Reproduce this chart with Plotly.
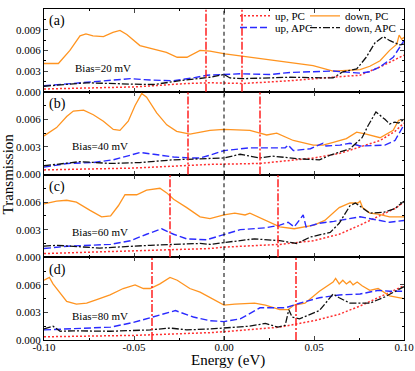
import plotly.graph_objects as go
from plotly.subplots import make_subplots

# bias voltage of each panel, mV
BIAS_MV = [20, 40, 60, 80]
PANEL_LABELS = ["(a)", "(b)", "(c)", "(d)"]
SERIES_NAMES = ["up, PC", "down, PC", "up, APC", "down, APC"]

# ---- panel (a) ----
A_UP_PC_E = [-0.1, -0.05, -0.02, -0.0078, 0.0107, 0.0367, 0.06, 0.0756, 0.0867, 0.1]
A_UP_PC_T = [0.0004, 0.0007, 0.0012, 0.0013, 0.0012, 0.0016, 0.0021, 0.0024, 0.0036, 0.0053]
A_DOWN_PC_E = [-0.1, -0.092, -0.0856, -0.08, -0.0767, -0.0728, -0.067, -0.0617, -0.0578, -0.054,
               -0.0467, -0.039, -0.032, -0.026, -0.0206, -0.0133, -0.0078, 0.0006, 0.0098, 0.02,
               0.0367, 0.0495, 0.0606, 0.066, 0.0756, 0.081, 0.0867, 0.092, 0.096, 0.0973, 0.0987, 0.1]
A_DOWN_PC_T = [0.0041, 0.0041, 0.0060, 0.0081, 0.0084, 0.0081, 0.0080, 0.0086, 0.0089, 0.0083,
               0.0067, 0.0062, 0.0057, 0.0050, 0.0050, 0.0060, 0.0059, 0.0055, 0.0052, 0.0048,
               0.0043, 0.0038, 0.0030, 0.0031, 0.0032, 0.0037, 0.0045, 0.0060, 0.0069, 0.0082, 0.0076, 0.0079]
A_UP_APC_E = [-0.1, -0.078, -0.0633, -0.052, -0.041, -0.0283, -0.0172, -0.0094, 0.0089, 0.0256,
              0.0367, 0.0495, 0.0606, 0.0756, 0.081, 0.0867, 0.094, 0.1]
A_UP_APC_T = [0.00086, 0.0013, 0.0016, 0.0019, 0.0017, 0.0016, 0.0020, 0.0024, 0.0026, 0.0025,
              0.0028, 0.0029, 0.0030, 0.0027, 0.0029, 0.0036, 0.0050, 0.0074]
A_DOWN_APC_E = [-0.1, -0.0763, -0.0505, -0.039, -0.0244, -0.0133, -0.0078, 0.0, 0.0033, 0.0107,
                0.0237, 0.0367, 0.0606, 0.066, 0.0737, 0.079, 0.0839, 0.0885, 0.0922, 0.0978, 0.1]
A_DOWN_APC_T = [0.0008, 0.0013, 0.0011, 0.00105, 0.0016, 0.0020, 0.0021, 0.0025, 0.0020, 0.0019,
                0.0020, 0.0021, 0.0020, 0.0029, 0.0033, 0.0050, 0.0071, 0.0080, 0.0074, 0.0068, 0.0069]

# ---- panel (b) ----
B_UP_PC_E = [-0.1, -0.05, -0.0078, 0.02, 0.05, 0.0644, 0.0756, 0.0867, 0.095, 0.1]
B_UP_PC_T = [0.0005, 0.0007, 0.0011, 0.0012, 0.0018, 0.0023, 0.0030, 0.0037, 0.0047, 0.0056]
B_DOWN_PC_E = [-0.1, -0.093, -0.0874, -0.0837, -0.078, -0.0726, -0.067, -0.0615, -0.0578, -0.0532,
               -0.0494, -0.0457, -0.043, -0.0374, -0.0318, -0.0263, -0.0189, -0.0133, -0.0078, 0.0,
               0.0144, 0.02, 0.0237, 0.0293, 0.0385, 0.0496, 0.055, 0.0607, 0.068, 0.0737,
               0.079, 0.0867, 0.09, 0.094, 0.097, 0.1]
B_DOWN_PC_T = [0.0042, 0.0051, 0.0063, 0.0069, 0.0070, 0.0065, 0.0058, 0.0049, 0.0048, 0.0058,
               0.0075, 0.0088, 0.0084, 0.0067, 0.0054, 0.0047, 0.0044, 0.0046, 0.0048, 0.0049,
               0.0048, 0.0045, 0.0043, 0.0045, 0.0037, 0.0032, 0.0032, 0.0035, 0.0039, 0.0046,
               0.0044, 0.0040, 0.0044, 0.0048, 0.0059, 0.0060]
B_UP_APC_E = [-0.1, -0.087, -0.0726, -0.0615, -0.052, -0.0467, -0.039, -0.028, -0.0189, -0.0133,
              -0.0078, 0.0, 0.0144, 0.034, 0.0356, 0.0385, 0.048, 0.055, 0.0567, 0.0644,
              0.07, 0.0756, 0.0894, 0.095, 0.1]
B_UP_APC_T = [0.0008, 0.0012, 0.0013, 0.0016, 0.0021, 0.0024, 0.0022, 0.0019, 0.0018, 0.0018,
              0.0021, 0.0026, 0.0029, 0.0029, 0.0032, 0.0026, 0.0028, 0.0034, 0.0031, 0.0032,
              0.0034, 0.0031, 0.0032, 0.0037, 0.0054]
B_DOWN_APC_E = [-0.1, -0.08, -0.063, -0.0467, -0.028, -0.0078, 0.0, 0.009, 0.02, 0.027,
                0.042, 0.053, 0.059, 0.07, 0.0767, 0.08, 0.0844, 0.0894, 0.092, 0.095, 0.097, 0.1]
B_DOWN_APC_T = [0.00095, 0.0014, 0.0012, 0.0013, 0.0016, 0.0018, 0.0018, 0.0022, 0.0018, 0.0020,
                0.0017, 0.0016, 0.0021, 0.0028, 0.0040, 0.0053, 0.0068, 0.0060, 0.0055, 0.0057, 0.0056, 0.0060]

# ---- panel (c) ----
C_UP_PC_E = [-0.1, -0.05, -0.0078, 0.0, 0.031, 0.05, 0.064, 0.0756, 0.0867, 0.095, 0.1]
C_UP_PC_T = [0.0004, 0.0007, 0.00095, 0.0011, 0.0014, 0.0018, 0.0025, 0.0035, 0.0045, 0.0053, 0.0060]
C_DOWN_PC_E = [-0.1, -0.093, -0.0874, -0.082, -0.0744, -0.068, -0.063, -0.0587, -0.055, -0.0485,
               -0.043, -0.0356, -0.0318, -0.028, -0.0207, -0.0133, -0.0078, 0.0, 0.006, 0.0117,
               0.0144, 0.02, 0.031, 0.039, 0.05, 0.056, 0.064, 0.07, 0.0744, 0.0756,
               0.077, 0.081, 0.0856, 0.092, 0.1]
C_DOWN_PC_T = [0.0058, 0.0061, 0.0062, 0.0060, 0.0051, 0.0044, 0.0045, 0.0056, 0.0068, 0.0068,
               0.0073, 0.0075, 0.0070, 0.0063, 0.0054, 0.0044, 0.0042, 0.0046, 0.0048, 0.0046,
               0.0048, 0.0043, 0.0033, 0.0031, 0.0035, 0.0040, 0.0054, 0.0059, 0.0059, 0.0061,
               0.0054, 0.0048, 0.0047, 0.0044, 0.0044]
C_UP_APC_E = [-0.1, -0.087, -0.063, -0.052, -0.043, -0.0346, -0.028, -0.0207, -0.0096, 0.0,
              0.009, 0.023, 0.031, 0.0356, 0.039, 0.044, 0.0456, 0.053, 0.061, 0.0756,
              0.0867, 0.092, 0.1]
C_UP_APC_T = [0.00095, 0.0012, 0.0014, 0.0018, 0.0025, 0.0031, 0.0025, 0.0020, 0.0019, 0.0025,
              0.0030, 0.0032, 0.0035, 0.0038, 0.0033, 0.0046, 0.0033, 0.0037, 0.0039, 0.0044,
              0.0040, 0.0038, 0.0040]
C_DOWN_APC_E = [-0.1, -0.093, -0.069, -0.041, -0.0133, -0.0078, 0.0, 0.017, 0.031, 0.0405,
                0.048, 0.059, 0.064, 0.07, 0.073, 0.081, 0.089, 0.095, 0.1]
C_DOWN_APC_T = [0.0012, 0.0013, 0.0010, 0.0013, 0.0015, 0.0014, 0.0016, 0.0020, 0.0018, 0.0015,
                0.0022, 0.0027, 0.0037, 0.0056, 0.0059, 0.0048, 0.0049, 0.0053, 0.0061]

# ---- panel (d) ----
D_UP_PC_E = [-0.1, -0.05, -0.0078, 0.0, 0.031, 0.05, 0.064, 0.0756, 0.0867, 0.095, 0.1]
D_UP_PC_T = [0.00035, 0.0005, 0.0008, 0.0009, 0.0014, 0.0021, 0.0028, 0.0037, 0.0047, 0.0054, 0.0059]
D_DOWN_PC_E = [-0.1, -0.097, -0.095, -0.091, -0.0874, -0.082, -0.0763, -0.0707, -0.0633, -0.056,
               -0.0494, -0.0448, -0.041, -0.0356, -0.030, -0.026, -0.019, -0.0133, -0.0078, 0.0,
               0.006, 0.017, 0.023, 0.031, 0.0356, 0.039, 0.045, 0.053, 0.0606, 0.062,
               0.064, 0.066, 0.068, 0.070, 0.0717, 0.074, 0.0767, 0.081, 0.0856, 0.092, 0.1]
D_DOWN_PC_T = [0.0065, 0.0068, 0.0061, 0.0051, 0.0042, 0.0039, 0.0040, 0.0044, 0.0049, 0.0056,
               0.0060, 0.0056, 0.0056, 0.0061, 0.0068, 0.0065, 0.0056, 0.0052, 0.0046, 0.0038,
               0.0039, 0.0040, 0.0038, 0.0033, 0.0033, 0.0038, 0.0040, 0.0053, 0.0063, 0.0067,
               0.0061, 0.0065, 0.0061, 0.0064, 0.0060, 0.0063, 0.0059, 0.0054, 0.0056, 0.0048, 0.0045]
D_UP_APC_E = [-0.1, -0.087, -0.063, -0.0505, -0.039, -0.027, -0.017, -0.0078, 0.0, 0.009,
              0.02, 0.034, 0.042, 0.053, 0.064, 0.0756, 0.0856, 0.092, 0.1]
D_UP_APC_T = [0.0011, 0.0012, 0.0014, 0.0019, 0.0025, 0.0032, 0.0025, 0.0021, 0.0020, 0.0023,
              0.0035, 0.0035, 0.0040, 0.0046, 0.0049, 0.0050, 0.0054, 0.0053, 0.0053]
D_DOWN_APC_E = [-0.1, -0.095, -0.091, -0.0838, -0.063, -0.041, -0.03, -0.0207, -0.0078, 0.0,
                0.014, 0.023, 0.030, 0.034, 0.036, 0.0378, 0.042, 0.053, 0.0606, 0.064,
                0.07, 0.081, 0.0894, 0.1]
D_DOWN_APC_T = [0.0012, 0.0015, 0.00095, 0.0010, 0.00095, 0.0011, 0.0013, 0.0011, 0.0012, 0.0013,
                0.0015, 0.0018, 0.0014, 0.0016, 0.0033, 0.0025, 0.0023, 0.0032, 0.0050, 0.0046,
                0.0040, 0.0040, 0.0047, 0.0058]

X_TICKS = [-0.10, -0.05, 0.00, 0.05, 0.10]
X_TICK_TEXT = ["-0.10", "-0.05", "0.00", "0.05", "0.10"]
Y_TICKS = [0.0, 0.003, 0.006, 0.009]
Y_TICK_TEXT_TOP = ["0.000", "0.003", "0.006", "0.009"]
Y_TICK_TEXT = ["0.000", "0.003", "0.006", ""]
Y_MAX = [0.012, 0.009, 0.009, 0.009]

PANELS = [
    [(A_UP_PC_E, A_UP_PC_T), (A_DOWN_PC_E, A_DOWN_PC_T), (A_UP_APC_E, A_UP_APC_T), (A_DOWN_APC_E, A_DOWN_APC_T)],
    [(B_UP_PC_E, B_UP_PC_T), (B_DOWN_PC_E, B_DOWN_PC_T), (B_UP_APC_E, B_UP_APC_T), (B_DOWN_APC_E, B_DOWN_APC_T)],
    [(C_UP_PC_E, C_UP_PC_T), (C_DOWN_PC_E, C_DOWN_PC_T), (C_UP_APC_E, C_UP_APC_T), (C_DOWN_APC_E, C_DOWN_APC_T)],
    [(D_UP_PC_E, D_UP_PC_T), (D_DOWN_PC_E, D_DOWN_PC_T), (D_UP_APC_E, D_UP_APC_T), (D_DOWN_APC_E, D_DOWN_APC_T)],
]

FONT = "Liberation Serif, Times New Roman, serif"
LINE_STYLES = [
    dict(color="#ff3030", width=1.5, dash="2px,2px"),
    dict(color="#ff9420", width=1.3),
    dict(color="#2a2aff", width=1.4, dash="7px,3px"),
    dict(color="#111111", width=1.3, dash="7px,2px,2px,2px"),
]
# legend slot (left px, top px) for each series, figure pixels
LEGEND_SLOTS = [(235, 8), (305, 8), (235, 20), (305, 20)]

W, H = 415, 371
M_L, M_R, M_T, M_B = 44, 11, 1, 31
PW, PH = W - M_L - M_R, H - M_T - M_B

fig = make_subplots(rows=4, cols=1, shared_xaxes=True, vertical_spacing=0)

for row, series in enumerate(PANELS, start=1):
    for k, (e, t) in enumerate(series):
        assert len(e) == len(t)
        fig.add_trace(go.Scatter(
            x=e, y=t, mode="lines", name=SERIES_NAMES[k],
            line=LINE_STYLES[k], showlegend=(row == 1),
            legend="legend" if k == 0 else f"legend{k + 1}",
        ), row=row, col=1)

    half = BIAS_MV[row - 1] / 2000.0
    for xv in (-half, half):
        fig.add_vline(x=xv, row=row, col=1,
                      line=dict(color="#ff2020", width=1.5, dash="8px,2px,2px,2px"))
    fig.add_vline(x=0.0, row=row, col=1, line=dict(color="black", width=1, dash="4px,3px"))

    xref = "x domain" if row == 1 else f"x{row} domain"
    yref = "y domain" if row == 1 else f"y{row} domain"
    fig.add_annotation(text=PANEL_LABELS[row - 1], xref=xref, yref=yref, x=0.008, y=0.85,
                       xanchor="left", yanchor="middle", showarrow=False,
                       font=dict(family=FONT, size=14, color="black"))
    bias_x = 0.08 if row == 1 else 0.072
    bias_y = [0.292, 0.35, 0.30, 0.29][row - 1]
    fig.add_annotation(text=f"Bias={BIAS_MV[row - 1]} mV", xref=xref, yref=yref, x=bias_x, y=bias_y,
                       xanchor="left", yanchor="middle", showarrow=False,
                       font=dict(family=FONT, size=11, color="black"))

    fig.update_xaxes(row=row, col=1, range=[-0.1, 0.1], tickmode="array", tickvals=X_TICKS,
                     ticktext=X_TICK_TEXT, ticks="inside", ticklen=4, mirror="allticks",
                     showline=True, linecolor="black", linewidth=1, showgrid=False, zeroline=False,
                     ticklabelstandoff=-3,
                     minor=dict(ticks="inside", ticklen=2, tickmode="linear", tick0=0, dtick=0.025,
                                tickcolor="black", showgrid=False),
                     tickfont=dict(family=FONT, size=11, color="black"))
    fig.update_yaxes(row=row, col=1, range=[0, Y_MAX[row - 1]], tickmode="array", tickvals=Y_TICKS,
                     ticktext=Y_TICK_TEXT_TOP if row == 1 else Y_TICK_TEXT,
                     ticks="inside", ticklen=4, mirror="allticks", showline=True, linecolor="black",
                     linewidth=1, showgrid=False, zeroline=False,
                     minor=dict(ticks="inside", ticklen=2, tickmode="linear", tick0=0, dtick=0.0015,
                                tickcolor="black", showgrid=False),
                     tickfont=dict(family=FONT, size=11, color="black"))

# equal-height panels, no gaps
for row in range(1, 5):
    lo = (4 - row) / 4.0
    fig.update_yaxes(row=row, col=1, domain=[lo, lo + 0.25])

legend_cfg = {}
for k, (lx, ly) in enumerate(LEGEND_SLOTS):
    key = "legend" if k == 0 else f"legend{k + 1}"
    legend_cfg[key] = dict(x=(lx - M_L) / PW, y=(H - M_B - ly) / PH, xanchor="left", yanchor="middle",
                           bgcolor="rgba(0,0,0,0)", borderwidth=0,
                           font=dict(family=FONT, size=11, color="black"))

fig.add_annotation(text="Transmission", xref="paper", yref="paper", x=(7 - M_L) / PW, y=0.5,
                   xanchor="center", yanchor="middle", textangle=-90, showarrow=False,
                   font=dict(family=FONT, size=15, color="black"))
fig.add_annotation(text="Energy (eV)", xref="paper", yref="paper", x=(228 - M_L) / PW,
                   y=-(371 - (H - M_B)) / PH, xanchor="center", yanchor="bottom", showarrow=False,
                   borderpad=0, font=dict(family=FONT, size=15, color="black"))

fig.update_layout(
    width=W, height=H,
    margin=dict(l=M_L, r=M_R, t=M_T, b=M_B),
    plot_bgcolor="white", paper_bgcolor="white",
    font=dict(family=FONT, size=11, color="black"),
    **legend_cfg,
)

# page body margin would shift the figure by 8px
fig.write_html("out.html", config={"displayModeBar": False},
               post_script="document.body.style.margin='0';")
